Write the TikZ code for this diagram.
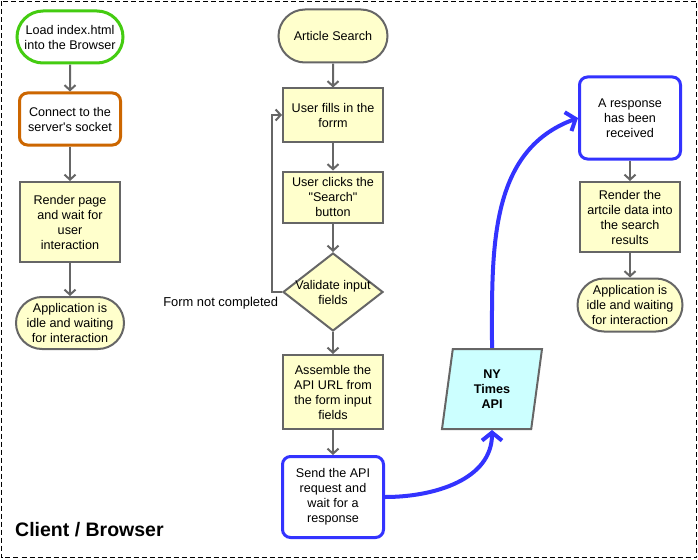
\documentclass[tikz,border=0pt]{standalone}
\usepackage{fontspec}
\newfontfamily\diagfont{Liberation Sans}
\usepackage{tikz}
\usepackage{xcolor}
\usetikzlibrary{shapes.geometric,shapes.misc,arrows.meta}

\definecolor{startgreen}{HTML}{44CC11}
\definecolor{sockorange}{HTML}{CC6600}
\definecolor{boxyellow}{HTML}{FFFFCC}
\definecolor{linegray}{HTML}{666666}
\definecolor{reqblue}{HTML}{3333FF}
\definecolor{apicyan}{HTML}{CCFFFF}

\begin{document}
\begin{tikzpicture}[x=1pt,y=-1pt]
				%\draw[help lines] (0,0) grid (698,559);
				\tikzset{
				every node/.style = {font=\diagfont\fontsize{12.6}{15}\selectfont, align=center, text=black},
				terminal/.style = {rounded rectangle, draw=linegray, line width=2pt, fill=boxyellow, minimum height=52pt, inner sep=2pt},
				process/.style = {rectangle, draw=linegray, line width=2pt, fill=boxyellow, minimum width=100pt, inner sep=1pt},
				roundbox/.style = {rectangle, rounded corners=8pt, line width=3pt, fill=white, minimum width=101pt, inner sep=1pt},
				decision/.style = {diamond, draw=linegray, line width=2pt, fill=boxyellow, minimum width=100pt, minimum height=78pt, inner sep=0pt},
				apibox/.style = {trapezium, trapezium left angle=76.6, trapezium right angle=103.4, trapezium stretches body,
					draw=linegray, line width=2pt, fill=apicyan, minimum width=100pt, minimum height=80pt,
					font=\diagfont\fontsize{12.6}{15}\selectfont\bfseries},
				flow/.style = {draw=linegray, line width=2pt, -{Straight Barb[length=5pt,width=11pt]}},
				apiflow/.style = {draw=reqblue, line width=4pt, -{Straight Barb[length=8pt,width=20pt]}}}
				
				\useasboundingbox (0,0) rectangle (698,559);
				\draw[line width=1.2pt, dash pattern=on 5pt off 3pt] (1.5,1.5) rectangle (696.5,557.5);
				
				% left column
				\node[terminal, draw=startgreen, line width=3pt, fill=white, minimum width=110pt] (load) at (70,37) {Load index.html\\into the Browser};
				\node[roundbox, draw=sockorange, minimum height=52pt] (socket) at (70,119) {Connect to the\\server's socket};
				\node[process, minimum height=80pt] (render) at (70,222) {Render page\\and wait for\\user\\interaction};
				\node[terminal, minimum width=112pt] (idleleft) at (70,323) {Application is\\idle and waiting\\for interaction};
				
				% middle column
				\node[terminal, minimum width=113pt, minimum height=53pt] (search) at (333,36) {Article Search};
				\node[process, minimum height=53pt] (fills) at (333,115) {User fills in the\\forrm};
				\node[process, minimum height=51pt] (clicks) at (333,197) {User clicks the\\"Search"\\button};
				\node[decision, label={center:Validate input\\fields}] (valid) at (333,292) {};
				\node[process, minimum height=74pt] (assemble) at (333,392) {Assemble the\\API URL from\\the form input\\fields};
				\node[roundbox, draw=reqblue, minimum height=81pt] (send) at (333,497) {Send the API\\request and\\wait for a\\response};
				
				% api and right column
				\node[apibox] (api) at (492,389) {NY\\Times\\API};
				\node[roundbox, draw=reqblue, minimum height=82pt] (response) at (630,118) {A response\\has been\\received};
				\node[process, minimum height=70pt] (artcile) at (630,217) {Render the\\artcile data into\\the search\\results};
				\node[terminal, minimum width=109pt, minimum height=53pt] (idleright) at (630,305) {Application is\\idle and waiting\\for interaction};
				
				\node[anchor=base west, inner sep=0pt, font=\diagfont\fontsize{19.5}{22}\selectfont\bfseries] (client) at (15,536) {Client / Browser};
				
				\draw[flow] (load) -- (socket);
				\draw[flow] (socket) -- (render);
				\draw[flow] (render) -- (idleleft);
				\draw[flow] (search) -- (fills);
				\draw[flow] (fills) -- (clicks);
				\draw[flow] (clicks) -- (valid);
				\draw[flow] (valid) -- (assemble);
				\draw[flow] (assemble) -- (send);
				\draw[flow] (response) -- (artcile);
				\draw[flow] (artcile) -- (idleright);
				\draw[flow] (valid.west) node[anchor=north east, inner sep=0pt, xshift=-3pt, yshift=-4pt, font=\diagfont\fontsize{12.9}{15}\selectfont] (notdone) {Form not completed}
					-- ++(-10,0) |- (fills.west);
				
				\draw[apiflow] (send.east) to[out=0, in=-90] (api.south);
				\draw[apiflow] (api.north) to[out=90, in=200] (response.west);
\end{tikzpicture}
\end{document}
